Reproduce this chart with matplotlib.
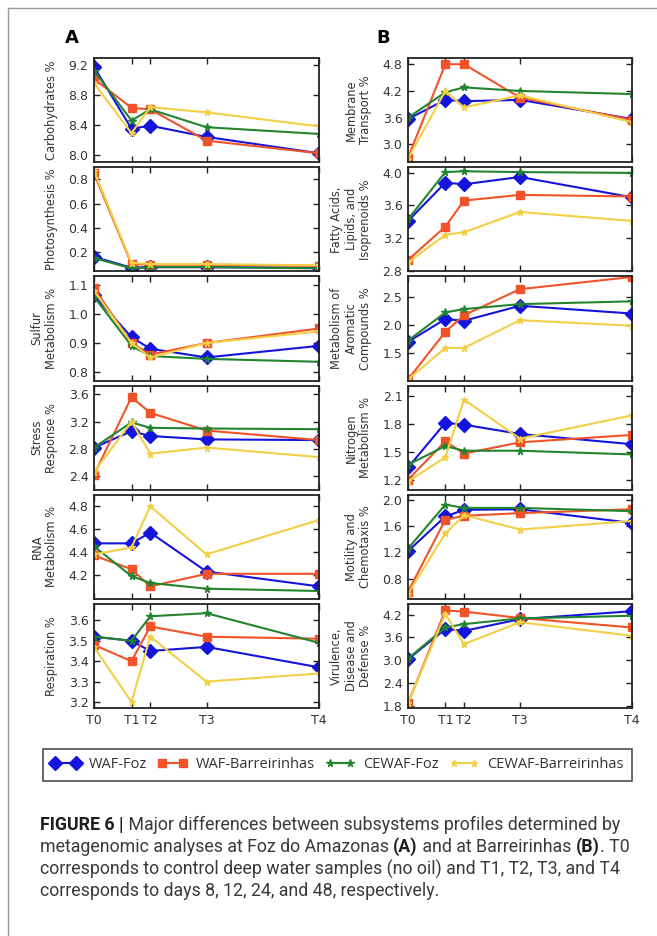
import numpy as np
import matplotlib
matplotlib.use("Agg")
import matplotlib.pyplot as plt
from matplotlib.lines import Line2D

plt.rcParams["font.family"] = "DejaVu Sans"

# sampling days for T0..T4
days = [0, 8, 12, 24, 48]
time_labels = ["T0", "T1", "T2", "T3", "T4"]
series_names = ["WAF-Foz", "WAF-Barreirinhas", "CEWAF-Foz", "CEWAF-Barreirinhas"]

# A - Foz do Amazonas, rows = WAF-Foz, WAF-Barreirinhas, CEWAF-Foz, CEWAF-Barreirinhas
carbohydrates = [[9.18, 8.35, 8.39, 8.24, 8.02],
                 [9.02, 8.63, 8.61, 8.19, 8.02],
                 [9.13, 8.46, 8.61, 8.37, 8.28],
                 [8.96, 8.29, 8.64, 8.57, 8.38]]
photosynthesis = [[0.16, 0.07, 0.075, 0.075, 0.07],
                  [0.85, 0.10, 0.095, 0.095, 0.085],
                  [0.15, 0.065, 0.075, 0.075, 0.065],
                  [0.87, 0.11, 0.10, 0.10, 0.09]]
sulfur = [[1.065, 0.92, 0.88, 0.85, 0.89],
          [1.09, 0.90, 0.86, 0.90, 0.95],
          [1.06, 0.89, 0.855, 0.845, 0.835],
          [1.08, 0.90, 0.85, 0.90, 0.94]]
stress = [[2.82, 3.06, 2.99, 2.94, 2.93],
          [2.42, 3.56, 3.33, 3.07, 2.93],
          [2.82, 3.19, 3.11, 3.10, 3.09],
          [2.46, 3.20, 2.73, 2.82, 2.68]]
rna = [[4.476, 4.476, 4.57, 4.23, 4.10],
       [4.37, 4.25, 4.10, 4.21, 4.21],
       [4.45, 4.19, 4.13, 4.08, 4.06],
       [4.38, 4.44, 4.80, 4.38, 4.68]]
respiration = [[3.52, 3.50, 3.45, 3.47, 3.37],
               [3.48, 3.40, 3.57, 3.52, 3.51],
               [3.52, 3.50, 3.62, 3.635, 3.49],
               [3.47, 3.20, 3.52, 3.30, 3.34]]

# B - Barreirinhas
membrane = [[3.57, 4.00, 3.97, 4.00, 3.57],
            [2.70, 4.80, 4.80, 4.05, 3.55],
            [3.60, 4.17, 4.28, 4.20, 4.13],
            [2.68, 4.20, 3.83, 4.10, 3.50]]
fatty_acids = [[3.41, 3.88, 3.86, 3.95, 3.70],
               [2.93, 3.34, 3.66, 3.73, 3.71],
               [3.43, 4.01, 4.02, 4.01, 4.00],
               [2.90, 3.24, 3.27, 3.52, 3.41]]
aromatic = [[1.70, 2.11, 2.08, 2.35, 2.21],
            [1.02, 1.88, 2.18, 2.65, 2.87],
            [1.72, 2.23, 2.29, 2.38, 2.43],
            [1.02, 1.59, 1.59, 2.09, 1.99]]
nitrogen = [[1.33, 1.81, 1.79, 1.69, 1.58],
            [1.20, 1.61, 1.48, 1.60, 1.68],
            [1.36, 1.56, 1.51, 1.51, 1.47],
            [1.18, 1.44, 2.06, 1.64, 1.89]]
motility = [[1.22, 1.75, 1.85, 1.86, 1.65],
            [0.60, 1.70, 1.76, 1.80, 1.86],
            [1.26, 1.93, 1.88, 1.88, 1.83],
            [0.57, 1.49, 1.77, 1.55, 1.68]]
virulence = [[3.02, 3.82, 3.77, 4.08, 4.29],
             [1.86, 4.31, 4.28, 4.11, 3.86],
             [3.04, 3.86, 3.95, 4.10, 4.17],
             [1.86, 4.22, 3.42, 4.00, 3.64]]

left_panels = [
    (carbohydrates, "Carbohydrates %", (7.9, 9.3), [8.0, 8.4, 8.8, 9.2]),
    (photosynthesis, "Photosynthesis %", (0.04, 0.9), [0.2, 0.4, 0.6, 0.8]),
    (sulfur, "Sulfur\nMetabolism %", (0.77, 1.13), [0.8, 0.9, 1.0, 1.1]),
    (stress, "Stress\nResponse %", (2.2, 3.73), [2.4, 2.8, 3.2, 3.6]),
    (rna, "RNA\nMetabolism %", (3.99, 4.9), [4.2, 4.4, 4.6, 4.8]),
    (respiration, "Respiration %", (3.17, 3.68), [3.2, 3.3, 3.4, 3.5, 3.6]),
]
right_panels = [
    (membrane, "Membrane\nTransport %", (2.6, 4.94), [3.0, 3.6, 4.2, 4.8]),
    (fatty_acids, "Fatty Acids,\nLipids, and\nIsoprenoids %", (2.79, 4.07), [2.8, 3.2, 3.6, 4.0]),
    (aromatic, "Metabolism of\nAromatic\nCompounds %", (1.0, 2.88), [1.5, 2.0, 2.5]),
    (nitrogen, "Nitrogen\nMetabolism %", (1.09, 2.21), [1.2, 1.5, 1.8, 2.1]),
    (motility, "Motility and\nChemotaxis %", (0.49, 2.08), [0.8, 1.2, 1.6, 2.0]),
    (virulence, "Virulence,\nDisease and\nDefense %", (1.73, 4.48), [1.8, 2.4, 3.0, 3.6, 4.2]),
]

colors = ["#1414dc", "#f0532a", "#23842f", "#f2cf45"]
markers = ["D", "s", "*", "*"]
msizes = [7, 5.5, 5.5, 5]

W, H = 657, 936
fig = plt.figure(figsize=(W / 100, H / 100), dpi=100)
fig.patch.set_facecolor("white")

panel_h = 104.2
gap = 5.0
top0 = 58


def draw_column(panels, x0, x1):
    for i, (vals, label, ylim, yticks) in enumerate(panels):
        top = top0 + i * (panel_h + gap)
        ax = fig.add_axes([x0 / W, 1 - (top + panel_h) / H, (x1 - x0) / W, panel_h / H])
        for k in range(4):
            ax.plot(days, vals[k], color=colors[k], marker=markers[k], ms=msizes[k],
                    mec=colors[k], mfc=colors[k], lw=1.5)
        ax.set_xlim(0, 48)
        ax.set_ylim(*ylim)
        ax.set_yticks(yticks)
        ax.set_yticklabels(["%.1f" % t for t in yticks])
        ax.set_xticks(days)
        if i == len(panels) - 1:
            ax.set_xticklabels(time_labels)
        else:
            ax.set_xticklabels([])
        ax.tick_params(direction="in", top=True, right=True, length=4, width=1,
                       labelsize=9, labelcolor="#333333", color="#222222", pad=4)
        for sp in ax.spines.values():
            sp.set_linewidth(1.3)
            sp.set_color("#222222")
        ax.set_ylabel(label, fontsize=8.3, color="#333333", linespacing=1.15)
        ax.yaxis.set_label_coords(-0.16, 0.5)


draw_column(left_panels, 94, 319)
draw_column(right_panels, 408, 632)

fig.text(72 / W, 1 - 38 / H, "A", fontsize=13, fontweight="bold", ha="center", va="center")
fig.text(383 / W, 1 - 38 / H, "B", fontsize=13, fontweight="bold", ha="center", va="center")

# legend below the panels
handles = [Line2D([], [], color=colors[k], marker=markers[k], ms=msizes[k],
                  mec=colors[k], mfc=colors[k], lw=1.5) for k in range(4)]
leg = fig.legend(handles, series_names, loc="center", ncol=4, numpoints=2,
                 bbox_to_anchor=(43 / W, 1 - 782 / H, (632 - 43) / W, 34 / H),
                 mode="expand", handlelength=2.0, handletextpad=0.6,
                 borderaxespad=0, borderpad=0.55, fancybox=False, frameon=True,
                 prop={"family": "Open Sans", "size": 10.5})
leg.get_frame().set_edgecolor("#222222")
leg.get_frame().set_linewidth(1.2)
for t in leg.get_texts():
    t.set_color("#333333")

# outer frame of the figure panel
fig.add_artist(Line2D([8 / W, 8 / W], [0, 1 - 8 / H], transform=fig.transFigure,
                      color="#9a9a9a", lw=1))
fig.add_artist(Line2D([8 / W, 1], [1 - 8 / H, 1 - 8 / H], transform=fig.transFigure,
                      color="#9a9a9a", lw=1))

# caption with bold runs
caption_lines = [
    [("FIGURE 6 |", "bold"), (" Major differences between subsystems profiles determined by", "normal")],
    [("metagenomic analyses at Foz do Amazonas ", "normal"), ("(A)", "bold"),
     (" and at Barreirinhas ", "normal"), ("(B)", "bold"), (". T0", "normal")],
    [("corresponds to control deep water samples (no oil) and T1, T2, T3, and T4", "normal")],
    [("corresponds to days 8, 12, 24, and 48, respectively.", "normal")],
]
renderer = fig.canvas.get_renderer()
for j, runs in enumerate(caption_lines):
    x = 40
    y = 825 + j * 22
    for s, w in runs:
        t = fig.text(x / W, 1 - y / H, s, fontsize=12.8, fontweight=w, family="Roboto",
                     color="#1e1e1e" if w == "bold" else "#3a3a3a", va="center", ha="left")
        x += t.get_window_extent(renderer=renderer).width

plt.savefig("out.png", dpi=100)
